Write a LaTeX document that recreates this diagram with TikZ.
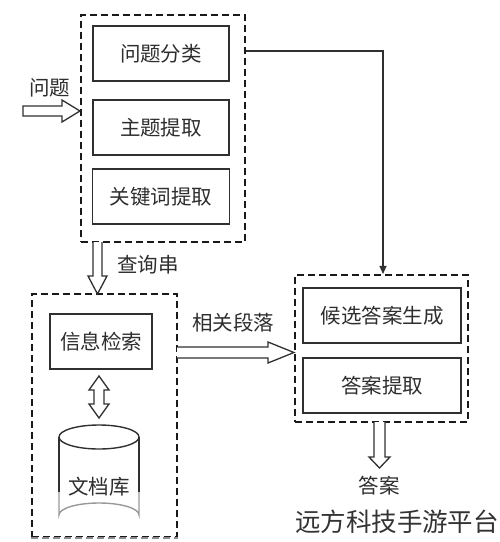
\documentclass[tikz,border=0pt]{standalone}
\usepackage{fontspec}
\newfontfamily\cjk{Noto Sans CJK SC}
\usetikzlibrary{arrows.meta,calc}
\definecolor{ink}{HTML}{2E2E2E}
\definecolor{edge}{HTML}{303030}
\begin{document}
\begin{tikzpicture}[x=1pt,y=-1pt,
  every node/.style={font=\cjk\fontsize{20.5}{24}\selectfont,text=ink,inner sep=0pt},
  modbox/.style={draw=edge,line width=1.5pt,minimum width=136pt,minimum height=55pt},
  grpbox/.style={draw=black!90,line width=2.1pt,dash pattern=on 7pt off 4pt},
  hollow/.style={draw=edge,line width=1.3pt,fill=white,line join=miter}]
\useasboundingbox (0,0) rectangle (500,542);
\fill[white] (0,0) rectangle (500,542);
% top group
\node[grpbox,minimum width=164pt,minimum height=227pt] (g1) at (163,128.5) {};
\node[modbox] (cls) at (161,53.5) {问题分类};
\node[modbox] (top) at (161,127.5) {主题提取};
\node[modbox,minimum width=137pt] (kw) at (161,196.5) {关键词提取};
% bottom-left group
\node[grpbox,minimum width=145pt,minimum height=243pt] (g2) at (104.5,415.5) {};
\draw[white,line width=2.6pt] (g2.south west) -- (g2.south east);
\draw[black!45,line width=1.8pt,dash pattern=on 7pt off 4pt] (g2.south west) -- (g2.south east);
\node[modbox,minimum width=102pt] (ir) at (101,341.5) {信息检索};
% cylinder
\coordinate (cylT) at (99,437);
\coordinate (cylB) at (99,515);
\fill[white] ($(cylT)+(-40,0)$) -- ($(cylB)+(-40,0)$) arc[start angle=180,end angle=360,x radius=40,y radius=12] -- ($(cylT)+(40,0)$) -- cycle;
\draw[edge,line width=1.4pt] ($(cylT)+(-40,0)$) -- ($(cylT)+(-40,55)$);
\draw[edge,line width=1.4pt] ($(cylT)+(40,0)$) -- ($(cylT)+(40,55)$);
\draw[black!40,line width=1.4pt] ($(cylT)+(-40,55)$) -- ($(cylB)+(-40,0)$) arc[start angle=180,end angle=360,x radius=40,y radius=12] -- ($(cylT)+(40,55)$);
\draw[edge,line width=1.4pt] (cylT) ellipse[x radius=40,y radius=12];
\node (db) at (99,487) {文档库};
% right group
\node[grpbox,minimum width=173pt,minimum height=147pt] (g3) at (381.5,348.5) {};
\node[modbox,minimum width=158pt] (cand) at (382,315.5) {候选答案生成};
\node[modbox,minimum width=158pt] (ext) at (382,385.5) {答案提取};
% thin connector
\coordinate (turn) at (383,51);
\coordinate (startl) at (0,51);
\draw[edge,line width=1.2pt,-{Triangle[length=8pt,width=7pt]}] (g1.east |- startl) -- (turn) -- (turn |- g3.north);
% input arrow
\coordinate (qin) at (23,111);
\path[hollow] (23,106) -- (62,106) -- (62,100) -- (g1.west |- qin) -- (62,122) -- (62,116) -- (23,116) -- cycle;
\node (qlbl) at (50,88) {问题};
% down arrow query
\path[hollow] (93,242) -- (93,276) -- (88,276) -- (97.5,294) -- (107,276) -- (102,276) -- (102,242);
\node (qs) at (148,265) {查询串};
% related passages arrow
\coordinate (rpy) at (0,352.5);
\path[hollow] (177,347) -- (268,347) -- (268,342) -- (g3.west |- rpy) -- (268,363) -- (268,358) -- (177,358);
\node (rp) at (233,323) {相关段落};
% double arrow
\path[hollow] (99,376) -- (109,390) -- (104,390) -- (104,404) -- (109,404) -- (99,418) -- (89,404) -- (94,404) -- (94,390) -- (89,390) -- cycle;
% answer out arrow
\path[hollow] (374,422) -- (374,457) -- (369,457) -- (379.5,468) -- (390,457) -- (385,457) -- (385,422);
\node (ans) at (379,486) {答案};
% watermark
\node[font=\cjk\fontsize{25.5}{30}\selectfont,text=black!80] (wm) at (397,522) {远方科技手游平台};
\end{tikzpicture}
\end{document}
